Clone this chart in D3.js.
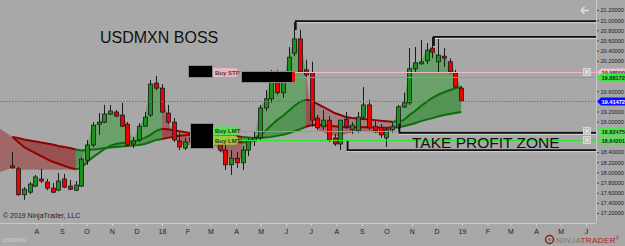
<!DOCTYPE html>
<html>
<head>
<meta charset="utf-8">
<script src="https://cdn.jsdelivr.net/npm/d3@7"></script>
<style>
    html, body { margin: 0; padding: 0; background: #a8a8a8; }
    svg { display: block; font-family: "Liberation Sans", Arial, sans-serif; }
</style>
</head>
<body>
<div id="chart"></div>
<script>
// USDMXN weekly bars, weeks of 2017-07-03 .. 2018-12-31
const open = [18.13, 18.07, 17.56, 17.61, 17.73, 17.87, 17.81, 17.69, 17.65, 17.87, 17.73, 17.65, 17.73, 18.24, 18.54, 18.95, 18.99, 19.15, 19.19, 19.13,
    18.95, 18.56, 18.64, 18.91, 19.13, 19.76, 19.66, 19.17, 18.99, 18.62, 18.48, 18.60, 18.68, 18.74, 18.54, 18.64, 18.78, 18.44, 18.15, 18.28,
    18.19, 18.44, 18.62, 18.68, 19.27, 19.45, 19.92, 19.57, 19.88, 20.35, 20.63, 20.02, 19.96, 19.07, 18.90, 19.03, 18.68, 18.56, 19.05, 18.84,
    18.82, 19.09, 19.33, 18.91, 18.88, 18.68, 18.84, 18.88, 19.29, 19.37, 20.04, 20.14, 20.20, 20.45, 20.18, 20.29, 20.18, 19.96, 19.66];
const high = [18.40, 18.11, 17.71, 17.81, 17.95, 18.07, 17.87, 17.79, 17.99, 17.97, 17.85, 17.83, 18.30, 18.64, 18.99, 19.17, 19.33, 19.33, 19.23, 19.37,
    18.99, 18.70, 18.97, 19.19, 19.82, 19.90, 19.74, 19.33, 19.07, 18.78, 18.68, 18.78, 18.84, 18.88, 18.72, 18.88, 18.84, 18.58, 18.44, 18.40,
    18.52, 18.68, 18.80, 19.33, 19.62, 20.02, 20.02, 19.82, 20.47, 20.96, 20.81, 20.22, 20.18, 19.13, 19.23, 19.11, 18.76, 18.95, 19.19, 18.99,
    19.19, 19.68, 19.43, 19.01, 18.95, 18.88, 18.99, 19.33, 19.57, 20.45, 20.47, 20.61, 20.55, 20.67, 20.67, 20.45, 20.25, 20.02, 19.70];
const low = [18.07, 17.54, 17.46, 17.57, 17.71, 17.79, 17.65, 17.59, 17.63, 17.69, 17.65, 17.63, 17.71, 18.15, 18.50, 18.74, 18.97, 19.13, 19.09, 18.90,
    18.52, 18.48, 18.60, 18.90, 19.09, 19.62, 19.17, 18.95, 18.60, 18.44, 18.44, 18.50, 18.52, 18.48, 18.46, 18.58, 18.40, 18.05, 17.95, 18.09,
    18.05, 18.32, 18.52, 18.64, 19.21, 19.37, 19.53, 19.47, 19.82, 20.29, 19.96, 19.88, 18.90, 18.84, 18.84, 18.60, 18.52, 18.44, 18.86, 18.76,
    18.78, 19.05, 18.84, 18.78, 18.68, 18.50, 18.78, 18.84, 19.27, 19.33, 19.98, 20.12, 20.14, 20.25, 19.96, 20.08, 19.94, 19.66, 19.41];
const close = [18.09, 17.56, 17.67, 17.77, 17.91, 17.83, 17.69, 17.61, 17.83, 17.71, 17.67, 17.75, 18.26, 18.54, 18.93, 18.99, 19.15, 19.21, 19.11, 18.91,
    18.54, 18.62, 18.91, 19.09, 19.74, 19.66, 19.19, 18.99, 18.64, 18.50, 18.60, 18.68, 18.74, 18.54, 18.64, 18.78, 18.44, 18.15, 18.28, 18.19,
    18.44, 18.62, 18.68, 19.27, 19.45, 19.92, 19.57, 19.78, 20.27, 20.63, 19.98, 19.92, 19.03, 18.88, 19.03, 18.64, 18.56, 19.03, 18.90, 18.93,
    19.09, 19.33, 18.88, 18.82, 18.74, 18.84, 18.90, 19.29, 19.37, 20.04, 20.16, 20.18, 20.41, 20.37, 20.31, 20.25, 19.98, 19.68, 19.41];

// moving averages and cloud edge, one value per week
const fastMA = [18.70, 18.60, 18.50, 18.44, 18.38, 18.32, 18.26, 18.21, 18.17, 18.13, 18.09, 18.06, 18.09,
    18.21, 18.30, 18.38, 18.46, 18.52, 18.56, 18.58, 18.59, 18.60, 18.64, 18.68, 18.74, 18.82, 18.86,
    18.85, 18.83, 18.81, 18.79, 18.77, 18.75, 18.73, 18.71, 18.69, 18.66, 18.63, 18.61, 18.60, 18.59, 18.60, 18.66,
    18.74, 18.82, 18.93, 19.03, 19.11, 19.21, 19.31, 19.39, 19.43, 19.41,
    19.35, 19.29, 19.23, 19.17, 19.13, 19.09, 19.07, 19.06, 19.05, 19.04, 19.03, 19.02, 19.01, 19.00,
    19.01, 19.03, 19.13, 19.21, 19.31, 19.39, 19.47, 19.53, 19.58, 19.62, 19.66, 19.68];
const slowMA = [18.70, 18.68, 18.65, 18.63, 18.61, 18.59, 18.57, 18.55, 18.52, 18.50, 18.48, 18.45, 18.43,
    18.44, 18.45, 18.46, 18.48, 18.49, 18.50, 18.51, 18.52, 18.53, 18.54, 18.56, 18.60, 18.64, 18.66,
    18.68, 18.70, 18.72, 18.73, 18.74, 18.75, 18.75, 18.75, 18.75, 18.74, 18.73, 18.72, 18.71, 18.70, 18.69, 18.68,
    18.68, 18.69, 18.70, 18.72, 18.74, 18.77, 18.81, 18.85, 18.90, 18.93,
    18.94, 18.93, 18.92, 18.91, 18.90, 18.89, 18.89, 18.89, 18.89, 18.89, 18.88, 18.88, 18.88, 18.88,
    18.89, 18.91, 18.94, 18.97, 19.01, 19.04, 19.07, 19.10, 19.13, 19.15, 19.17, 19.19];
const cloudEdge = [18.09, 18.05, 18.05, 18.05, 18.05, 18.05, 18.05, 18.05, 18.05, 18.05, 18.05, 18.05, 18.26,
    18.54, 18.93, 18.99, 19.15, 19.21, 19.19, 19.13, 18.95, 18.62, 18.91, 19.09, 19.74, 19.76, 19.66,
    19.03, 18.74, 18.54, 18.54, 18.54, 18.54, 18.54, 18.54, 18.54, 18.44, 18.32, 18.24, 18.24, 18.28, 18.44, 18.64,
    19.27, 19.45, 19.90, 19.90, 19.78, 20.27, 20.63, 20.63, 20.02, 19.03,
    18.84, 18.80, 18.74, 18.72, 18.72, 18.76, 18.78, 18.80, 18.82, 18.80, 18.78, 18.76, 18.76, 18.84,
    19.29, 19.37, 20.04, 20.16, 20.18, 20.41, 20.45, 20.31, 20.29, 20.18, 19.96, 19.66];
// values carried in from before the first visible bar
const maLeadIn = { date: '2017-06-18', fast: 18.86, slow: 18.86, edge: 18.01 };

// drawn levels (price, first bar)
const levels = [
    { price: 20.98, from: '2018-06-11' },
    { price: 20.67, from: '2018-11-26' },
    { price: 18.78, from: '2018-10-15' },
    { price: 18.44, from: '2018-08-13' }
];

// right-axis price flags
const flagPrices = [19.98000, 19.88172, 19.41472, 18.82475, 18.64201];
const flagKinds = ['stop', 'target', 'last', 'limit', 'limit'];

const yTicks = [21.2, 21.0, 20.8, 20.6, 20.4, 20.2, 19.6, 19.2, 19.0, 18.4, 18.2, 18.0, 17.8, 17.6, 17.4, 17.2];
const monthLabels = ['A', 'S', 'O', 'N', 'D', '18', 'F', 'M', 'A', 'M', 'J', 'J', 'A', 'S', 'O', 'N', 'D', '19', 'F', 'M', 'A', 'M', 'J'];

const W = 625, H = 246;
const plotR = 596, axisY = 223;
const parse = d3.timeParse('%Y-%m-%d');

const weeks = d3.timeMonday.range(new Date(2017, 6, 3), new Date(2019, 0, 1));
const months = d3.timeMonth.range(new Date(2017, 7, 1), new Date(2019, 6, 1));

const x = d3.scaleTime().domain([new Date(2018, 0, 1), new Date(2019, 0, 1)]).range([162, 462]);
const y = d3.scaleLinear().domain([17.2, 21.2]).range([213, 10]);

const svg = d3.select('#chart').append('svg')
    .attr('width', W).attr('height', H);

svg.append('rect').attr('width', W).attr('height', H).attr('fill', '#a8a8a8');

svg.append('clipPath').attr('id', 'plot')
    .append('rect').attr('x', 0).attr('y', 0).attr('width', plotR).attr('height', axisY);

const plot = svg.append('g').attr('clip-path', 'url(#plot)');

// --- cloud between the averages, coloured by the fast average's direction
const pts = [{ date: parse(maLeadIn.date), fast: maLeadIn.fast, slow: maLeadIn.slow, edge: maLeadIn.edge, lead: true }]
    .concat(weeks.map((d, i) => ({ date: d, fast: fastMA[i], slow: slowMA[i], edge: cloudEdge[i] })));

const runs = [];
for (let k = 1; k < pts.length; k++) {
    const up = pts[k].fast >= pts[k - 1].fast;
    const last = runs[runs.length - 1];
    if (last && last.up === up) last.end = k;
    else runs.push({ up: up, start: k - 1, end: k });
}

const edgeArea = d3.area().x(d => x(d.date)).y0(d => y(d.slow)).y1(d => y(d.edge));
const bandArea = d3.area().x(d => x(d.date)).y0(d => y(d.slow)).y1(d => y(d.fast));
const fastLine = d3.line().x(d => x(d.date)).y(d => y(d.fast));
const slowLine = d3.line().x(d => x(d.date)).y(d => y(d.slow));

runs.forEach(r => {
    const seg = pts.slice(r.start, r.end + 1);
    plot.append('path').datum(seg).attr('d', edgeArea)
        .attr('fill', r.up ? 'rgba(30,150,30,0.45)' : 'rgba(150,25,25,0.45)');
    plot.append('path').datum(seg).attr('d', bandArea)
        .attr('fill', r.up ? 'rgba(20,110,20,0.25)' : 'rgba(130,10,10,0.25)');
});

runs.forEach(r => {
    const seg = pts.slice(r.start, r.end + 1).filter(d => !d.lead);
    const col = r.up ? '#0b6e0b' : '#930000';
    plot.append('path').datum(seg).attr('d', slowLine)
        .attr('fill', 'none').attr('stroke', col).attr('stroke-width', 2);
    plot.append('path').datum(seg).attr('d', fastLine)
        .attr('fill', 'none').attr('stroke', col).attr('stroke-width', 2);
});

// --- candles
const bars = weeks.map((d, i) => ({ date: d, o: open[i], h: high[i], l: low[i], c: close[i] }));

const candle = plot.append('g').selectAll('g').data(bars).join('g');
candle.append('line')
    .attr('x1', d => Math.round(x(d.date)) + 0.5).attr('x2', d => Math.round(x(d.date)) + 0.5)
    .attr('y1', d => y(d.h)).attr('y2', d => y(d.l))
    .attr('stroke', '#1a1a1a').attr('stroke-width', 1);
candle.append('rect')
    .attr('x', d => Math.round(x(d.date)) - 1.5)
    .attr('y', d => y(Math.max(d.o, d.c)))
    .attr('width', 4)
    .attr('height', d => Math.max(1, Math.abs(y(d.o) - y(d.c))))
    .attr('fill', d => d.c >= d.o ? '#1f8f1f' : '#f20000')
    .attr('stroke', '#1a1a1a').attr('stroke-width', 0.8);

// --- last price dotted line
plot.append('line')
    .attr('x1', 0).attr('x2', plotR)
    .attr('y1', Math.round(y(flagPrices[2])) + 0.5).attr('y2', Math.round(y(flagPrices[2])) + 0.5)
    .attr('stroke', '#747474').attr('stroke-dasharray', '1.5,1.5');

// --- order lines
const orderLine = (price, x0, col) => plot.append('line')
    .attr('x1', x0).attr('x2', plotR)
    .attr('y1', Math.round(y(price)) + 0.5).attr('y2', Math.round(y(price)) + 0.5)
    .attr('stroke', col).attr('stroke-width', 1);
orderLine(flagPrices[0], 188, '#f2b9c4');
orderLine(flagPrices[1], 292, '#2fe02f');
orderLine(flagPrices[3], 213, '#2fe02f');
orderLine(flagPrices[4], 213, '#2fe02f');

// --- drawn support / resistance levels
levels.forEach(lv => {
    const d0 = parse(lv.from);
    const bar = bars.find(b => +b.date === +d0);
    const yy = y(lv.price);
    const dir = lv.price >= bar.c ? 1 : -1;
    const x0 = x(d0) + 1.5;
    plot.append('path')
        .attr('d', `M${x0},${yy + dir * 9}V${yy}H${plotR}`)
        .attr('fill', 'none').attr('stroke', '#d2d2d2').attr('stroke-width', 1)
        .attr('transform', 'translate(0,1.6)');
    plot.append('path')
        .attr('d', `M${x0},${yy + dir * 9}V${yy}H${plotR}`)
        .attr('fill', 'none').attr('stroke', '#111').attr('stroke-width', 1.8);
});

// --- chart trader order boxes
const tag = (x0, yc, w, fill, txt, txtCol) => {
    const g = plot.append('g');
    g.append('path')
        .attr('d', `M${x0},${yc - 4.5}H${x0 + w}L${x0 + w + 4},${yc}L${x0 + w},${yc + 4.5}H${x0}Z`)
        .attr('fill', fill);
    g.append('text').attr('x', x0 + 2).attr('y', yc + 2.2)
        .attr('font-size', 6).attr('font-weight', 'bold').attr('fill', txtCol).text(txt);
};
const box = (x0, y0, w, h) => plot.append('rect')
    .attr('x', x0).attr('y', y0).attr('width', w).attr('height', h)
    .attr('fill', '#000').attr('stroke', '#8a8a8a').attr('stroke-width', 1);

box(188.5, 65.5, 24, 12);
tag(213, y(flagPrices[0]) + 0.5, 23, '#e9b8bf', 'Buy STP', '#5a3a3a');
box(241.5, 71.5, 51, 11);
plot.append('rect').attr('x', 292).attr('y', 72).attr('width', 3).attr('height', 10).attr('fill', '#e01010');
box(190.5, 123.5, 23, 25);
tag(213, y(flagPrices[3]) + 0.5, 23, '#55e055', 'Buy LMT', '#2a3a10');
tag(213, y(flagPrices[4]) + 0.5, 23, '#9cc83a', 'Buy LMT', '#3a3a10');

// small close buttons on order lines
[flagPrices[0], flagPrices[3], flagPrices[4]].forEach(p => {
    const yc = Math.round(y(p));
    plot.append('rect').attr('x', 583.5).attr('y', yc - 3.5).attr('width', 7).attr('height', 7)
        .attr('fill', '#bdbdbd').attr('stroke', '#d8d8d8');
    plot.append('path').attr('d', `M585,${yc - 2}L589,${yc + 2}M589,${yc - 2}L585,${yc + 2}`)
        .attr('stroke', '#f0f0f0').attr('stroke-width', 1);
});

// --- annotations
svg.append('text').attr('x', 100).attr('y', 43).attr('font-size', 16).attr('fill', '#111')
    .text('USDMXN BOSS');
svg.append('text').attr('x', 412).attr('y', 148).attr('font-size', 15.5).attr('fill', '#111')
    .text('TAKE PROFIT ZONE');

// --- axes
const xAxis = svg.append('g').attr('transform', `translate(0,${axisY})`)
    .call(d3.axisBottom(x).tickValues(months).tickFormat((d, i) => monthLabels[i]).tickSize(3).tickPadding(3));
xAxis.select('.domain').remove();
xAxis.selectAll('.tick line').attr('stroke', '#d4d4d4');
xAxis.selectAll('.tick text').attr('font-size', 7).attr('fill', '#222')
    .attr('font-family', '"Liberation Sans", Arial, sans-serif');
svg.append('line').attr('x1', 0).attr('x2', plotR).attr('y1', axisY + 0.5).attr('y2', axisY + 0.5)
    .attr('stroke', '#c9c9c9');

const yAxis = svg.append('g').attr('transform', `translate(${plotR},0)`)
    .call(d3.axisRight(y).tickValues(yTicks).tickFormat(d3.format('.5f')).tickSize(3).tickPadding(1.5));
yAxis.select('.domain').remove();
yAxis.selectAll('.tick line').attr('stroke', '#444');
yAxis.selectAll('.tick text').attr('font-size', 5.8).attr('fill', '#222').attr('letter-spacing', -0.1)
    .attr('font-family', '"Liberation Sans", Arial, sans-serif');
svg.append('line').attr('x1', plotR + 0.5).attr('x2', plotR + 0.5).attr('y1', 0).attr('y2', axisY)
    .attr('stroke', '#c9c9c9');

// --- price flags on the axis
const flagStyle = {
    stop: { fill: '#f0c0c8', text: '#333' },
    target: { fill: '#3ae63a', text: '#1a2a1a' },
    last: { fill: '#0a0aff', text: '#fff' },
    limit: { fill: '#58e058', text: '#1a2a1a' }
};
flagPrices.forEach((p, i) => {
    const st = flagStyle[flagKinds[i]];
    const yc = Math.round(y(p)) + 0.5;
    svg.append('path')
        .attr('d', `M597,${yc}L601,${yc - 4}H625V${yc + 4}H601Z`)
        .attr('fill', st.fill);
    svg.append('text').attr('x', 601.5).attr('y', yc + 2.1).attr('font-size', 5.8)
        .attr('letter-spacing', -0.1).attr('font-weight', 'bold').attr('fill', st.text)
        .text(d3.format('.5f')(p));
});

// --- furniture
svg.append('text').attr('x', 3).attr('y', 218).attr('font-size', 7).attr('fill', '#222')
    .text('\u00a9 2019 NinjaTrader, LLC');
svg.append('text').attr('x', 2).attr('y', 242).attr('font-size', 5.5).attr('fill', '#d2d2d2')
    .text('USDMXN');
svg.append('path').attr('d', 'M581,10.5H589M581,10.5L584.5,7M581,10.5L584.5,14')
    .attr('stroke', '#e2e2e2').attr('stroke-width', 1.3).attr('fill', 'none');

const logo = svg.append('g');
logo.append('circle').attr('cx', 549.5).attr('cy', 239.5).attr('r', 4)
    .attr('fill', 'none').attr('stroke', '#8a2020').attr('stroke-width', 1.5);
logo.append('circle').attr('cx', 549.5).attr('cy', 239.5).attr('r', 1.6).attr('fill', '#777');
const lt = logo.append('text').attr('x', 556).attr('y', 243).attr('font-size', 8)
    .attr('letter-spacing', 0.4);
lt.append('tspan').attr('fill', '#7a7a7a').text('NINJA');
lt.append('tspan').attr('fill', '#b01c1c').text('TRADER');
lt.append('tspan').attr('fill', '#b01c1c').attr('font-size', 4.5).attr('dy', -3).text('\u00ae');
</script>
</body>
</html>
